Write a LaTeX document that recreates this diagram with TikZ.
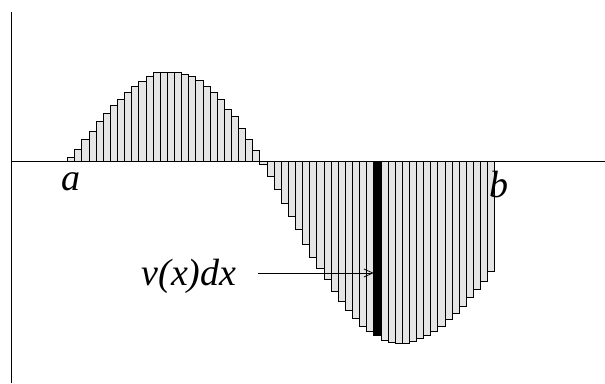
\documentclass[tikz,border=0pt]{standalone}
\usepackage{fontspec}
\setmainfont{Liberation Serif}
\usetikzlibrary{arrows.meta,positioning}

\begin{document}
\begin{tikzpicture}[x=1pt, y=1pt,
  bar/.style={draw, line width=0.9pt, fill=black!10},
  slice/.style={draw, line width=0.9pt, fill=black},
  axis/.style={line width=0.8pt},
  lbl/.style={font=\fontsize{38}{40}\selectfont\itshape, inner sep=0pt},
  arrow/.style={-{Straight Barb[length=9pt,width=8pt]}, line width=0.8pt}
]
  \def\w{7.12}
  \useasboundingbox (-11,-221.5) rectangle (594,161.5);

  % axes
  \draw[axis] (0,149.5) -- (0,-221.5);
  \draw[axis] (0,0) -- (594,0);

  % strips between a and b
  \foreach \h [count=\i from 0] in {4, 12.5, 22, 30.5, 40, 48, 56, 62.5, 69, 75,
      80, 85, 89, 89.5, 89.5, 89.5, 87.5, 85, 81.5, 75.5, 69, 62, 52.5, 45, 33,
      22, 11, -2.5, -14.5, -27.5, -41.5, -54.5, -67.5, -82.5, -95.5, -106.5,
      -117.5, -129.5, -139.5, -148.5, -156.5, -164.5, -169.5, -173.5, -179, -181,
      -181.5, -181.5, -180, -176.5, -173.5, -170, -165, -157.5, -151.5, -144.5,
      -135.5, -127.5, -119.5, -110} {
    \draw[bar] ({56.7+\i*\w},0) rectangle ++(\w,\h);
  }
  % the strip v(x)dx
  \draw[slice] ({56.7+43*\w},0) rectangle ++(\w,-173.5);

  % labels
  \node[lbl, anchor=base] (a) at (60,-28.5) {a};
  \node[lbl, anchor=base] (b) at (488,-35.5) {b};
  \node[lbl, anchor=base] (vdx) at (178,-123.5) {v(x)dx};

  \coordinate (tip) at ({56.7+43*\w},-111.5);
  \draw[arrow, shorten <=21pt] (vdx.east |- tip) -- (tip);
\end{tikzpicture}
\end{document}
